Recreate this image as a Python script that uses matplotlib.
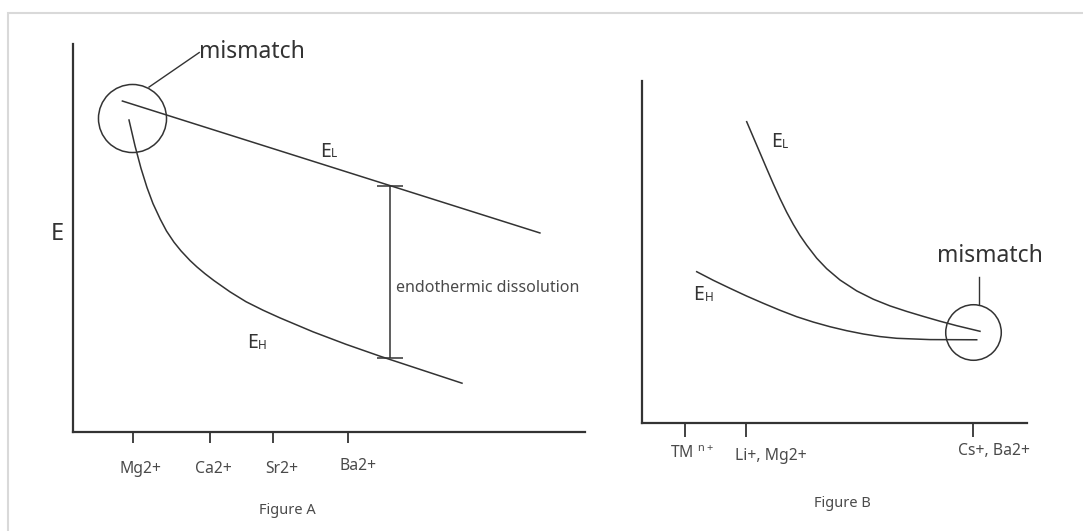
import matplotlib
matplotlib.use("Agg")
import matplotlib.pyplot as plt
import matplotlib.transforms as mtransforms
from matplotlib.patches import Rectangle

plt.rcParams['font.family'] = ['Noto Sans', 'DejaVu Sans']
plt.rcParams['mathtext.fontset'] = 'custom'
plt.rcParams['mathtext.rm'] = 'Noto Sans'

# ---- Figure A data (arbitrary energy units, schematic) ----
a_ticks = [1.18, 2.68, 3.91, 5.37]
a_labels = ['Mg2+', 'Ca2+', 'Sr2+', 'Ba2+']

a_el_x = [0.97, 9.12]
a_el_y = [8.53, 5.13]

a_eh_x = [1.099, 1.216, 1.333, 1.450, 1.567, 1.709, 1.831, 1.977, 2.114,
          2.290, 2.426, 2.582, 2.758, 3.070, 3.383, 3.715, 4.046, 4.691,
          5.335, 5.998, 6.798, 7.599]
a_eh_y = [8.041, 7.376, 6.796, 6.302, 5.887, 5.485, 5.180, 4.892, 4.668,
          4.420, 4.253, 4.080, 3.902, 3.613, 3.358, 3.139, 2.941, 2.582,
          2.260, 1.954, 1.606, 1.258]

a_gap_x = 6.19
a_gap_top = 6.33
a_gap_bottom = 1.90

a_mismatch = (1.167, 8.09)

# ---- Figure B data ----
b_ticks = [1.12, 2.70, 8.60]
b_labels = [r'TM $^{\mathregular{n+}}$', 'Li+, Mg2+', 'Cs+, Ba2+']

b_el_x = [2.719, 2.891, 3.065, 3.239, 3.410, 3.584, 3.758, 3.930, 4.104,
          4.278, 4.538, 4.797, 5.143, 5.577, 6.008, 6.442, 6.875, 7.306,
          7.740, 8.174, 8.779]
b_el_y = [8.809, 8.355, 7.896, 7.436, 6.992, 6.561, 6.160, 5.803, 5.478,
          5.195, 4.814, 4.507, 4.176, 3.857, 3.614, 3.418, 3.257, 3.111,
          2.970, 2.839, 2.675]

b_eh_x = [1.421, 1.854, 2.286, 2.719, 3.151, 3.585, 4.018, 4.450, 4.883,
          5.316, 5.748, 6.182, 6.616, 7.481, 8.694]
b_eh_y = [4.419, 4.166, 3.933, 3.706, 3.494, 3.290, 3.102, 2.945, 2.809,
          2.693, 2.596, 2.520, 2.470, 2.432, 2.427]

b_mismatch = (8.587, 2.654)

line_col = '#333333'
text_col = '#333333'
tick_col = '#4a4a4a'

W, H = 1083, 531
fig = plt.figure(figsize=(W / 100, H / 100), dpi=100)

# light frame of the original screenshot
fig.patches.append(Rectangle((8 / W, -0.1), 1.2, 1 - 13 / H + 0.1,
                             transform=fig.transFigure, fill=False,
                             ec='#d9d9d9', lw=1.5))


def style_axes(ax, ticks, labels, tick_len, pad):
    ax.set_xlim(0, 10)
    ax.set_ylim(0, 10)
    for s in ['top', 'right']:
        ax.spines[s].set_visible(False)
    for s in ['left', 'bottom']:
        ax.spines[s].set_color(line_col)
        ax.spines[s].set_linewidth(1.6)
    ax.set_yticks([])
    ax.set_xticks(ticks)
    ax.set_xticklabels(labels, fontsize=11.3, color=tick_col)
    ax.tick_params(axis='x', direction='out', length=tick_len, width=1.3,
                   color=line_col, pad=pad)
    ax.patch.set_alpha(0)


def shift_labels(ax, offsets, ha):
    for lab, (dx, dy) in zip(ax.get_xticklabels(), offsets):
        lab.set_ha(ha)
        lab.set_transform(lab.get_transform() +
                          mtransforms.ScaledTranslation(dx / 100, -dy / 100,
                                                        fig.dpi_scale_trans))


def energy_label(ax, x, y, sub):
    ax.text(x, y, 'E', fontsize=14, color=text_col, va='baseline', ha='left')
    ax.annotate(sub, xy=(x, y), xytext=(8.2, -0.5), textcoords='offset points',
                fontsize=8.5, color=text_col, va='baseline', ha='left')


# ================= Figure A =================
axA = fig.add_axes([72.7 / W, (H - 432) / H, 512.3 / W, 388 / H])
style_axes(axA, a_ticks, a_labels, 8, 13)
shift_labels(axA, [(7, 0), (3, 0), (9, 0), (10, -3)], 'center')

axA.plot(a_el_x, a_el_y, color=line_col, lw=1.1)
axA.plot(a_eh_x, a_eh_y, color=line_col, lw=1.1)
axA.errorbar([a_gap_x], [(a_gap_top + a_gap_bottom) / 2],
             yerr=[(a_gap_top - a_gap_bottom) / 2], color=line_col,
             lw=1.1, capsize=9.4, capthick=1.1)
axA.plot([a_mismatch[0]], [a_mismatch[1]], marker='o', ms=49, mfc='none',
         mec=line_col, mew=1.1, clip_on=False)
axA.plot([1.49, 2.47], [8.89, 9.78], color=line_col, lw=1.0, clip_on=False)
axA.text(2.467, 9.65, 'mismatch', fontsize=16.5, color=text_col,
         va='baseline', ha='left', clip_on=False)
energy_label(axA, 4.82, 7.10, 'L')
energy_label(axA, 3.40, 2.16, 'H')
axA.text(6.31, 3.70, 'endothermic dissolution', fontsize=11.5,
         color=tick_col, va='center', ha='left')
axA.set_ylabel('E', rotation=0, fontsize=17, color=text_col,
               ha='center', va='center')
axA.yaxis.set_label_coords(-0.031, 0.51)
axA.set_xlabel('Figure A', fontsize=10.5, color=tick_col)
axA.xaxis.set_label_coords(0.42, -0.183)

# ================= Figure B =================
axB = fig.add_axes([642 / W, (H - 422.7) / H, 385 / W, 341.7 / H])
style_axes(axB, b_ticks, b_labels, 10, 3)
shift_labels(axB, [(-15, 4), (-11, 7), (-15, 2)], 'left')

axB.plot(b_el_x, b_el_y, color=line_col, lw=1.1)
axB.plot(b_eh_x, b_eh_y, color=line_col, lw=1.1)
axB.plot([b_mismatch[0]], [b_mismatch[1]], marker='o', ms=40, mfc='none',
         mec=line_col, mew=1.1, clip_on=False)
axB.plot([8.761, 8.761], [4.264, 3.473], color=line_col, lw=1.0)
axB.text(7.655, 4.69, 'mismatch', fontsize=16.5, color=text_col,
         va='baseline', ha='left')
energy_label(axB, 3.343, 8.07, 'L')
energy_label(axB, 1.325, 3.59, 'H')
axB.set_xlabel('Figure B', fontsize=10.5, color=tick_col)
axB.xaxis.set_label_coords(0.52, -0.215)

fig.savefig('out.png', dpi=100)
